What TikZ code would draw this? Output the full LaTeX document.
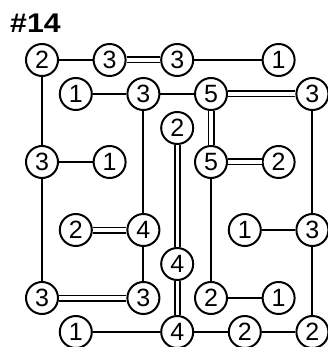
\documentclass[tikz,border=0pt]{standalone}
\usepackage{fontspec}
\setmainfont{Liberation Sans}
\usetikzlibrary{positioning}

\begin{document}
\begin{tikzpicture}[
  x=1pt, y=-1pt,
  isle/.style={circle, draw, line width=2pt, fill=white, minimum size=32pt,
              inner sep=0pt, font=\fontsize{25}{25}\selectfont},
  one/.style={line width=2pt},
  two/.style={line width=1.8pt, double, double distance=3.4pt}]
\useasboundingbox (0,0) rectangle (327,347);
\node[anchor=base west, inner sep=0pt, xscale=1.12, font=\fontsize{27}{27}\selectfont\bfseries]
  (title) at (10,33) {\#14};
% islands: column/row/number
\foreach \c/\r/\n in {0/0/2, 2/0/3, 4/0/3, 7/0/1,
                      1/1/1, 3/1/3, 5/1/5, 8/1/3,
                      4/2/2,
                      0/3/3, 2/3/1, 5/3/5, 7/3/2,
                      1/5/2, 3/5/4, 6/5/1, 8/5/3,
                      4/6/4,
                      0/7/3, 3/7/3, 5/7/2, 7/7/1,
                      1/8/1, 4/8/4, 6/8/2, 8/8/2}
  \node[isle] (i\c\r) at ({42+33.8*\c},{60+34*\r}) {\n};
% bridges
\draw[one] (i00) -- (i20);
\draw[two] (i20) -- (i40);
\draw[one] (i40) -- (i70);
\draw[one] (i00) -- (i03);
\draw[one] (i11) -- (i31);
\draw[one] (i31) -- (i51);
\draw[two] (i51) -- (i81);
\draw[two] (i51) -- (i53);
\draw[one] (i81) -- (i85);
\draw[two] (i42) -- (i46);
\draw[one] (i31) -- (i35);
\draw[one] (i03) -- (i23);
\draw[two] (i53) -- (i73);
\draw[one] (i53) -- (i57);
\draw[one] (i03) -- (i07);
\draw[two] (i15) -- (i35);
\draw[one] (i35) -- (i37);
\draw[one] (i65) -- (i85);
\draw[one] (i85) -- (i88);
\draw[two] (i46) -- (i48);
\draw[two] (i07) -- (i37);
\draw[one] (i57) -- (i77);
\draw[one] (i18) -- (i48);
\draw[one] (i48) -- (i68);
\draw[one] (i68) -- (i88);
\end{tikzpicture}
\end{document}
